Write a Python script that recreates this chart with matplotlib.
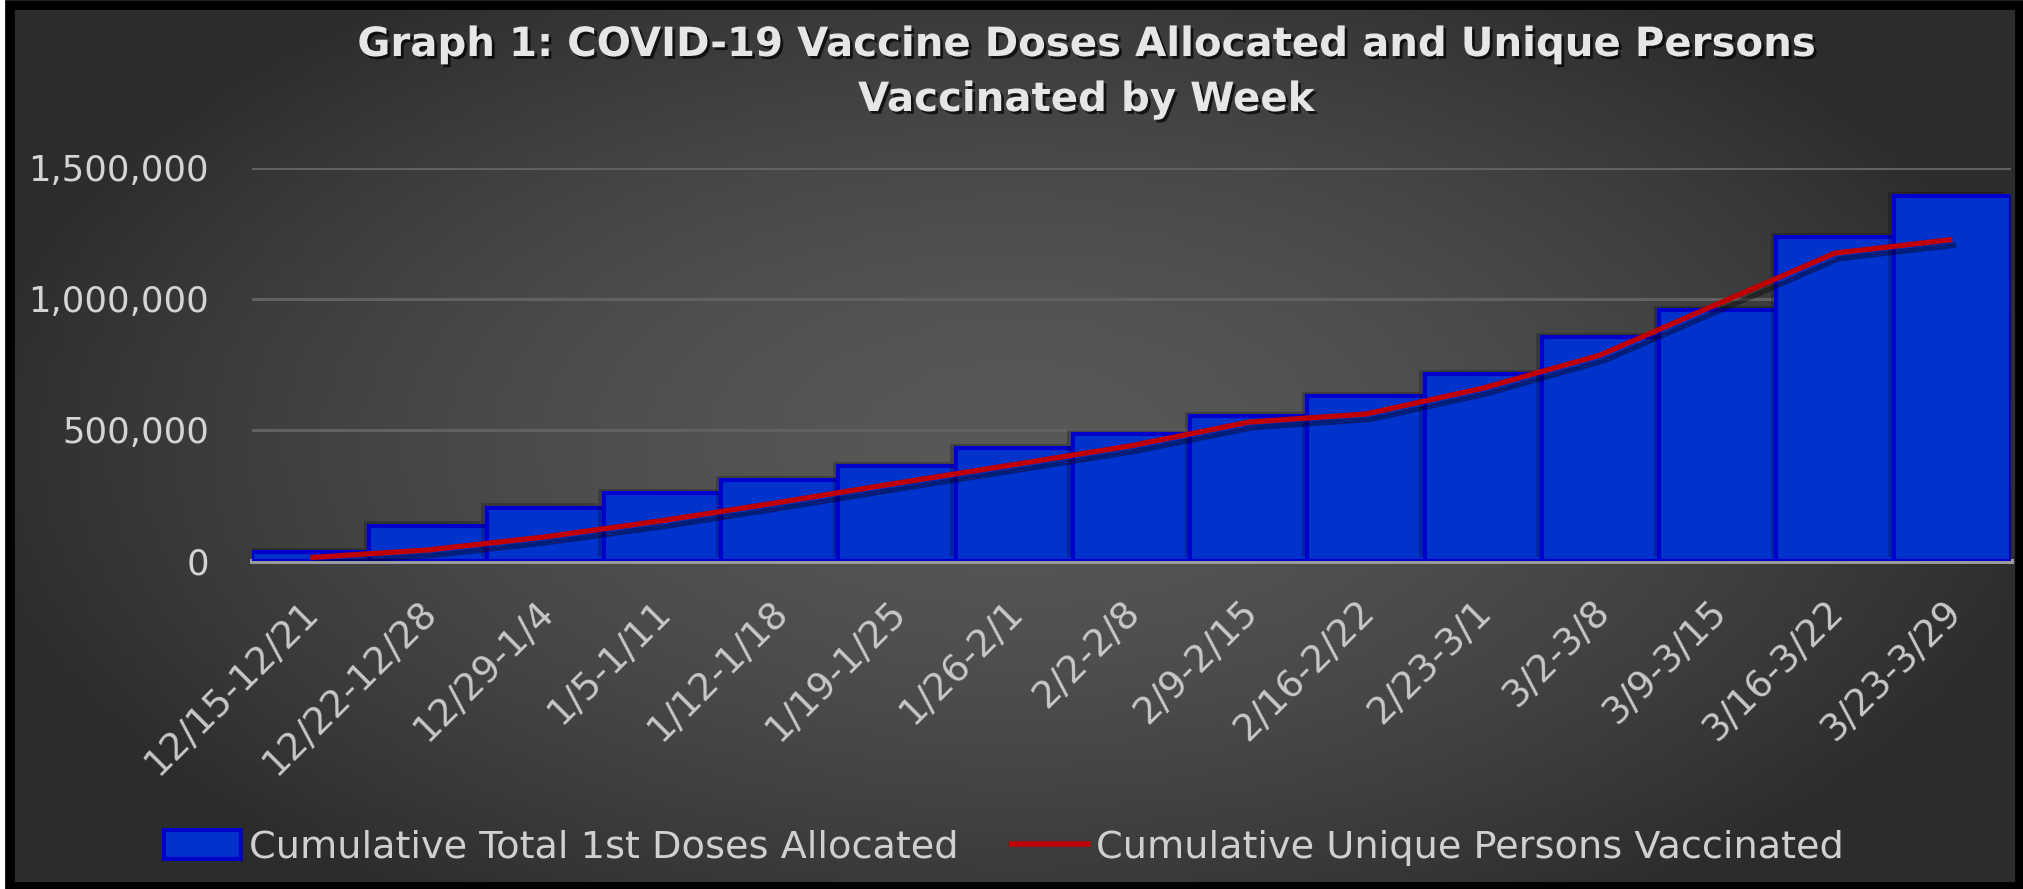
import numpy as np
import matplotlib
matplotlib.use("Agg")
import matplotlib.pyplot as plt
import matplotlib.patheffects as pe
from matplotlib.patches import Patch, Rectangle
from matplotlib.lines import Line2D
from matplotlib.ticker import FuncFormatter
import matplotlib.transforms as mtransforms

# data
weeks = ["12/15-12/21", "12/22-12/28", "12/29-1/4", "1/5-1/11", "1/12-1/18",
         "1/19-1/25", "1/26-2/1", "2/2-2/8", "2/9-2/15", "2/16-2/22",
         "2/23-3/1", "3/2-3/8", "3/9-3/15", "3/16-3/22", "3/23-3/29"]
doses_allocated = [35000, 135000, 204000, 258000, 308000, 362000, 431000, 485000,
                   554000, 628000, 715000, 855000, 958000, 1235000, 1393000]
persons_vaccinated = [13000, 42000, 92000, 154000, 224000, 297000, 368000, 440000,
                      530000, 561000, 660000, 786000, 981000, 1175000, 1227000]
yticks = [0, 500000, 1000000, 1500000]

W, H = 2024, 889
fig = plt.figure(figsize=(W / 100, H / 100), dpi=100, facecolor="white")
plt.rcParams['font.family'] = ['DejaVu Sans']

# dark radial gradient background with black frame
bg = fig.add_axes([10 / W, 2 / H, 2010 / W, 882 / H])
gx, gy = np.meshgrid(np.linspace(-1, 1, 400), np.linspace(-1, 1, 200))
r = np.clip(np.sqrt((gx / 1.05) ** 2 + (gy / 1.25) ** 2), 0, 1)
shade = 0.345 - 0.17 * r ** 1.6
bg.imshow(np.dstack([shade] * 3), aspect="auto", extent=[0, 1, 0, 1], origin="lower")
bg.add_patch(Rectangle((0, 0), 1, 1, transform=bg.transAxes, fill=False,
                       edgecolor="black", linewidth=7, clip_on=False))
bg.set_axis_off()

ax = fig.add_axes([252 / W, 1 - 561 / H, (2011 - 252) / W, (561 - 168) / H])
ax.patch.set_alpha(0)
x = np.arange(len(weeks))

bars = ax.bar(x, doses_allocated, width=1.0, color="#0032cc", edgecolor="#0000cc",
              linewidth=3, zorder=2)
for b in bars:
    b.set_path_effects([pe.SimplePatchShadow(offset=(-4, 3), shadow_rgbFace="black", alpha=0.22),
                        pe.Normal()])

ax.plot(x, persons_vaccinated, color="#c00000", linewidth=3.8, solid_capstyle="butt", zorder=3,
        path_effects=[pe.SimpleLineShadow(offset=(3, -4), shadow_color="black", alpha=0.4),
                      pe.Normal()])

ax.set_xlim(-0.5, len(weeks) - 0.5)
ax.set_ylim(0, 1500000)
ax.set_yticks(yticks)
ax.yaxis.set_major_formatter(FuncFormatter(lambda v, p: f"{int(v):,}"))
ax.yaxis.grid(True, color="#616161", linewidth=2.2)
ax.set_axisbelow(True)
for s in ["top", "right", "left"]:
    ax.spines[s].set_visible(False)
ax.spines["bottom"].set_color("#9a9a9a")
ax.spines["bottom"].set_linewidth(3.6)
ax.spines["bottom"].set_zorder(1)
ax.tick_params(axis="both", length=0, colors="#d4d4d4")
ax.tick_params(axis="y", pad=31, labelsize=25.5)

ax.set_xticks(x)
ax.set_xticklabels(weeks, rotation=45, ha="right", va="top", fontsize=27, color="#c8c8c8")
offset = mtransforms.ScaledTranslation(0.16, -0.28, fig.dpi_scale_trans)
for lab in ax.get_xticklabels():
    lab.set_transform(lab.get_transform() + offset)

# title
title_fx = pe.withSimplePatchShadow(offset=(2, -2), shadow_rgbFace="black", alpha=0.7)
fig.text(1086 / W, 1 - 45 / H, "Graph 1: COVID-19 Vaccine Doses Allocated and Unique Persons",
         ha="center", va="center", fontsize=29, fontweight="bold", color="#e6e6e6",
         path_effects=[title_fx])
fig.text(1086 / W, 1 - 100 / H, "Vaccinated by Week",
         ha="center", va="center", fontsize=29, fontweight="bold", color="#e6e6e6",
         path_effects=[title_fx])

handles = [Patch(facecolor="#0032cc", edgecolor="#0000c8", linewidth=3),
           Line2D([0], [0], color="#c00000", linewidth=4)]
leg = fig.legend(handles, ["Cumulative Total 1st Doses Allocated",
                           "Cumulative Unique Persons Vaccinated"],
                 loc="center", bbox_to_anchor=(1004 / W, 1 - 848 / H), ncol=2,
                 frameon=False, fontsize=27.5, handlelength=2.0, handleheight=0.8,
                 handletextpad=0.2, columnspacing=1.4)
for t in leg.get_texts():
    t.set_color("#d0d0d0")

fig.savefig("out.png", dpi=100, facecolor="white")
